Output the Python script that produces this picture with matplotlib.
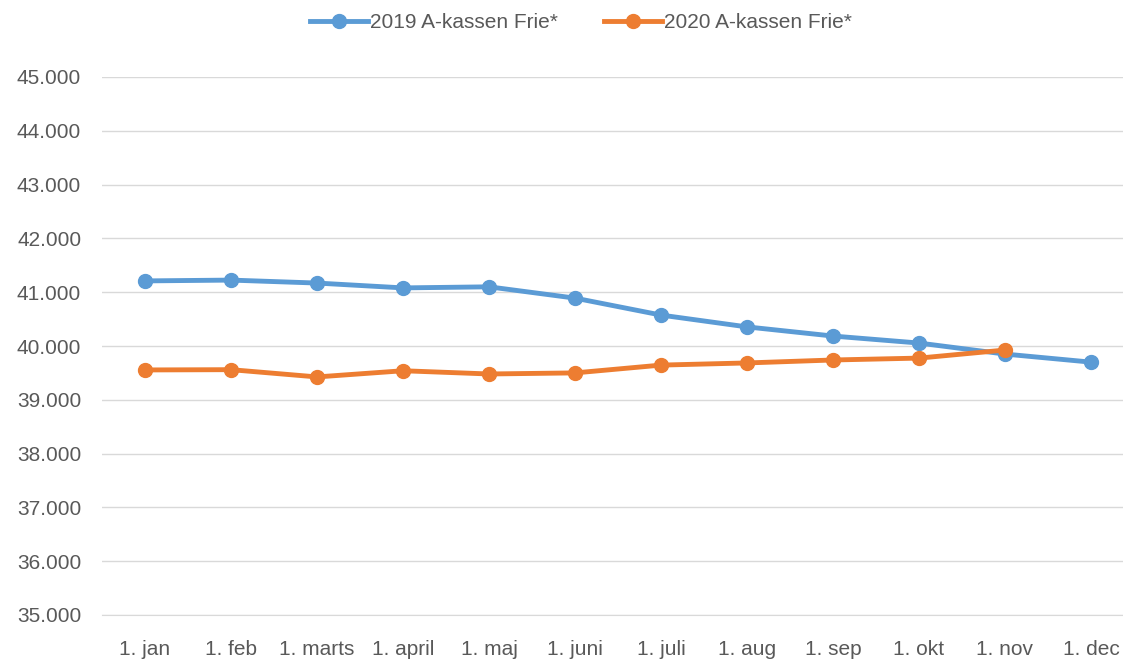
import matplotlib.pyplot as plt
from matplotlib.ticker import FuncFormatter

months = ["1. jan", "1. feb", "1. marts", "1. april", "1. maj", "1. juni",
          "1. juli", "1. aug", "1. sep", "1. okt", "1. nov", "1. dec"]
vals_2019 = [41210, 41225, 41170, 41080, 41100, 40890, 40575, 40355, 40185, 40055, 39850, 39700]
vals_2020 = [39555, 39560, 39425, 39540, 39480, 39500, 39645, 39685, 39740, 39775, 39925]

plt.rcParams['font.family'] = ['Liberation Sans', 'DejaVu Sans']

fig, ax = plt.subplots(figsize=(11.23, 6.6), dpi=100)
fig.subplots_adjust(left=102 / 1123, right=1134 / 1123, top=1 - 77 / 660, bottom=1 - 615 / 660)

x = list(range(len(months)))
ax.plot(x, vals_2019, color='#5B9BD5', lw=3.5, marker='o', ms=10, label='2019 A-kassen Frie*')
ax.plot(x[:len(vals_2020)], vals_2020, color='#ED7D31', lw=3.5, marker='o', ms=10,
        label='2020 A-kassen Frie*')

ax.set_ylim(35000, 45000)
ax.set_yticks(range(35000, 45001, 1000))
ax.yaxis.set_major_formatter(FuncFormatter(lambda v, p: f"{int(v):,}".replace(",", ".")))
ax.set_xlim(-0.5, len(months) - 0.5)
ax.set_xticks(x)
ax.set_xticklabels(months)

ax.grid(axis='y', color='#D9D9D9', lw=1)
ax.set_axisbelow(True)
for s in ['top', 'right', 'left']:
    ax.spines[s].set_visible(False)
ax.spines['bottom'].set_color('#D9D9D9')
ax.tick_params(axis='both', length=0, labelsize=15, colors='#595959')
ax.tick_params(axis='y', pad=15)
ax.tick_params(axis='x', pad=18)

fig.legend(*ax.get_legend_handles_labels(), loc='center', bbox_to_anchor=(581 / 1123, 1 - 23 / 660),
           ncol=2, frameon=False, fontsize=15, labelcolor='#595959', handlelength=2.8,
           columnspacing=2.2, handletextpad=0.1)

fig.savefig('out.png', dpi=100)
